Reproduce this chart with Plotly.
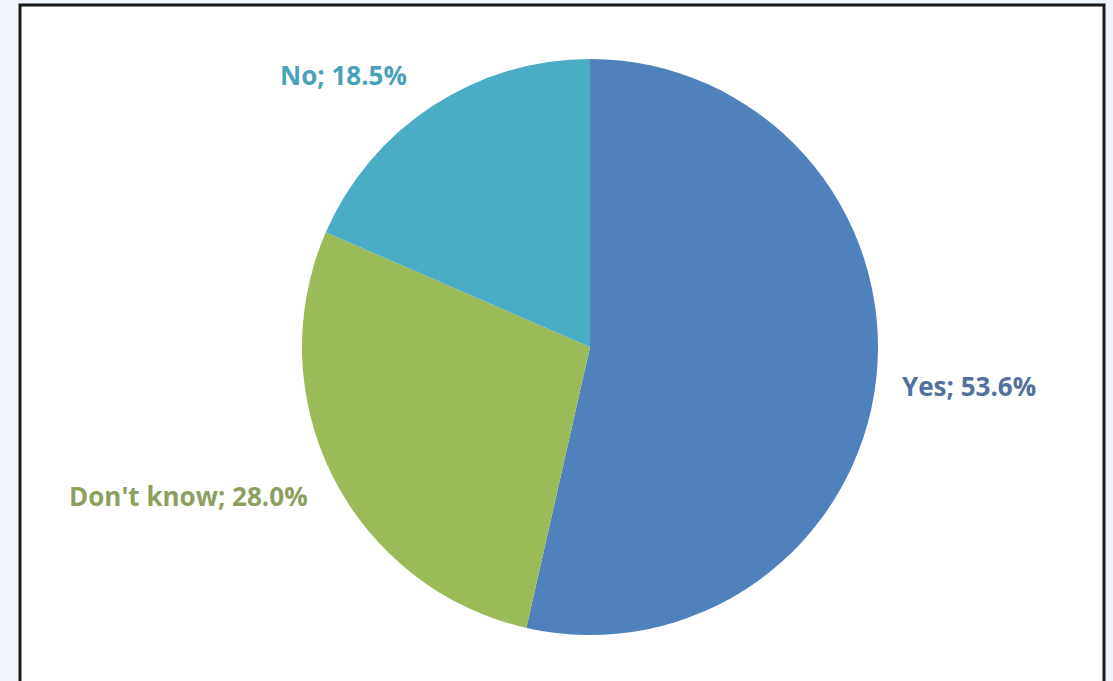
import plotly.graph_objects as go

# Survey answers
answers = ["Yes", "Don't know", "No"]
shares = [53.6, 28.0, 18.5]

slice_colors = ["#4F81BD", "#9BBB59", "#4BACC6"]
label_colors = ["#51719F", "#8BA05E", "#4AA2BA"]

W, H = 1113, 681

fig = go.Figure(
    go.Pie(
        labels=answers,
        values=shares,
        sort=False,
        direction="clockwise",
        rotation=0,
        marker=dict(colors=slice_colors, line=dict(width=0)),
        textinfo="none",
        hoverinfo="label+value",
        showlegend=False,
        domain=dict(x=[302 / W, 878 / W], y=[1 - 635 / H, 1 - 59 / H]),
    )
)

# Outside labels: (centre x, centre y) in pixels
label_pos = [(969, 386), (188, 496), (343, 75)]
annotations = []
for name, val, col, (px, py) in zip(answers, shares, label_colors, label_pos):
    annotations.append(
        dict(
            text=f"{name}; {val:.1f}%",
            x=px / W,
            y=1 - py / H,
            xref="paper",
            yref="paper",
            xanchor="center",
            yanchor="middle",
            showarrow=False,
            font=dict(family="Open Sans", size=26, color=col, weight="bold"),
        )
    )

fig.update_layout(
    width=W,
    height=H,
    margin=dict(l=0, r=0, t=0, b=0),
    paper_bgcolor="#EFF5FB",
    plot_bgcolor="#EFF5FB",
    annotations=annotations,
    shapes=[
        dict(
            type="rect",
            xref="paper",
            yref="paper",
            x0=20 / W,
            x1=1104 / W,
            y0=-0.02,
            y1=1 - 5 / H,
            fillcolor="white",
            line=dict(color="#1A1A1A", width=3),
            layer="below",
        )
    ],
)

fig.write_html("out.html")
